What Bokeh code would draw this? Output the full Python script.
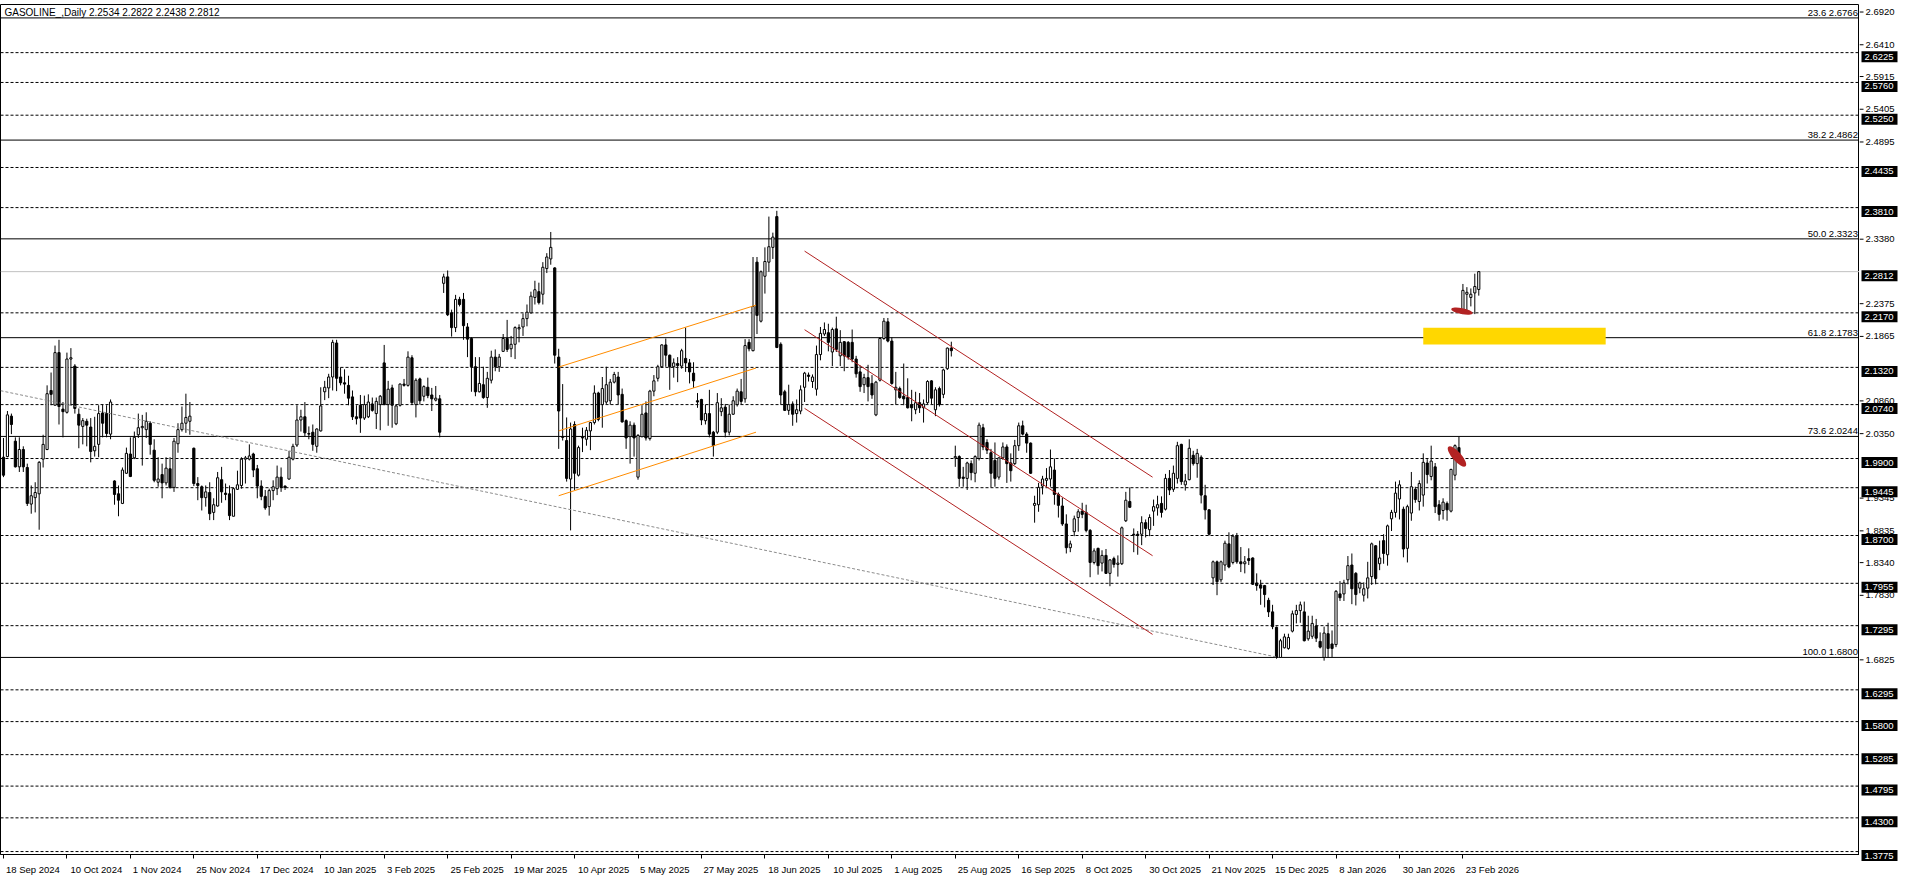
import numpy as np
from bokeh.plotting import figure
from bokeh.layouts import row
from bokeh.models import (Range1d, FixedTicker, Label, LinearAxis, CustomJSTickFormatter)
from bokeh.embed import file_html
from bokeh.resources import INLINE
from bokeh.core.properties import value

FONT = "Liberation Sans"

# ---------------- data (daily OHLC, bar index 0 = 18 Sep 2024) ----------------
opens = [
1.992,1.993,2.056,2.017,1.977,2.004,1.976,1.919,1.929,1.935,
1.989,2.004,2.096,2.073,2.155,2.067,2.062,2.145,2.134,2.059,
2.040,2.048,2.039,2.002,2.012,2.061,2.060,2.028,1.955,1.935,
1.920,1.967,1.997,1.991,2.027,2.038,2.035,2.045,2.003,1.953,
1.965,1.952,1.974,1.945,2.013,2.035,2.045,2.048,2.006,1.951,
1.946,1.929,1.937,1.906,1.916,1.957,1.936,1.935,1.900,1.942,
1.948,1.989,1.989,1.997,1.974,1.947,1.931,1.915,1.940,1.943,
1.961,1.947,1.958,1.989,2.011,2.050,2.055,2.029,2.031,2.009,
2.033,2.094,2.100,2.117,2.170,2.117,2.108,2.104,2.086,2.055,
2.073,2.053,2.055,2.075,2.060,2.074,2.139,2.074,2.100,2.044,
2.073,2.106,2.104,2.147,2.074,2.114,2.087,2.101,2.089,2.081,
2.083,2.263,2.273,2.217,2.194,2.238,2.238,2.195,2.177,2.133,
2.094,2.105,2.085,2.112,2.148,2.133,2.157,2.177,2.161,2.168,
2.192,2.195,2.208,2.217,2.241,2.250,2.246,2.286,2.301,2.287,
2.148,2.024,2.018,1.958,2.043,1.964,2.023,2.020,2.033,2.046,
2.092,2.074,2.078,2.080,2.109,2.117,2.090,2.049,2.024,2.042,
1.961,2.024,2.061,2.021,2.095,2.115,2.133,2.167,2.151,2.133,
2.138,2.134,2.146,2.139,2.123,2.080,2.082,2.049,2.060,2.031,
2.031,2.063,2.070,2.031,2.059,2.074,2.094,2.083,2.171,2.158,
2.296,2.204,2.274,2.296,2.319,2.367,2.168,2.094,2.065,2.075,
2.060,2.064,2.101,2.120,2.110,2.098,2.152,2.184,2.186,2.156,
2.192,2.150,2.172,2.171,2.171,2.145,2.125,2.105,2.116,2.107,
2.058,2.112,2.177,2.203,2.173,2.097,2.099,2.087,2.085,2.074,
2.066,2.077,2.069,2.077,2.111,2.066,2.099,2.090,2.130,2.162,
1.991,1.993,1.961,1.959,1.982,1.967,1.990,2.038,2.015,1.999,
1.987,1.961,1.991,2.008,1.983,1.982,2.010,2.041,2.028,2.014,
1.917,1.918,1.947,1.956,1.958,1.972,1.934,1.916,1.888,1.851,
1.876,1.898,1.908,1.906,1.878,1.828,1.850,1.827,1.839,1.811,
1.834,1.825,1.826,1.893,1.923,1.872,1.872,1.872,1.890,1.879,
1.908,1.913,1.920,1.911,1.959,1.942,1.959,2.012,1.949,1.957,
1.995,1.982,1.992,1.932,1.910,1.804,1.829,1.801,1.824,1.857,
1.828,1.870,1.829,1.826,1.834,1.835,1.796,1.793,1.792,1.769,
1.751,1.727,1.680,1.695,1.694,1.721,1.747,1.753,1.751,1.709,
1.713,1.729,1.705,1.680,1.717,1.701,1.700,1.779,1.779,1.801,
1.824,1.811,1.788,1.777,1.788,1.806,1.854,1.826,1.862,1.840,
1.896,1.906,1.927,1.911,1.850,1.905,1.942,1.923,1.933,1.983,
1.962,1.977,1.918,1.909,1.920,1.908,1.964,2.007,2.217,2.246,
2.241,2.248,2.2534]

highs = [
2.022,2.064,2.060,2.023,2.023,2.009,1.982,1.948,1.953,1.986,
2.027,2.104,2.124,2.166,2.175,2.078,2.155,2.162,2.137,2.068,
2.053,2.052,2.053,2.055,2.073,2.074,2.073,2.082,1.956,1.948,
1.976,2.007,2.023,2.032,2.060,2.058,2.062,2.048,2.020,1.992,
1.982,1.992,1.992,2.022,2.045,2.071,2.091,2.078,2.007,1.961,
1.948,1.948,1.953,1.928,1.969,1.977,1.951,1.948,1.945,1.971,
1.992,1.994,2.012,1.999,1.980,1.956,1.941,1.943,1.956,1.979,
1.976,1.948,2.002,2.013,2.073,2.066,2.078,2.040,2.043,2.037,
2.101,2.111,2.122,2.175,2.175,2.132,2.129,2.119,2.096,2.073,
2.089,2.088,2.090,2.085,2.085,2.089,2.167,2.111,2.105,2.074,
2.107,2.114,2.157,2.151,2.115,2.116,2.104,2.116,2.100,2.103,
2.089,2.278,2.283,2.222,2.245,2.242,2.248,2.201,2.179,2.148,
2.148,2.133,2.125,2.158,2.160,2.153,2.184,2.206,2.181,2.196,
2.199,2.216,2.230,2.250,2.267,2.264,2.296,2.310,2.343,2.288,
2.161,2.106,2.054,2.046,2.048,2.010,2.038,2.039,2.047,2.104,
2.094,2.117,2.133,2.114,2.125,2.125,2.099,2.051,2.048,2.046,
2.028,2.073,2.079,2.097,2.120,2.136,2.168,2.177,2.152,2.146,
2.148,2.161,2.194,2.145,2.140,2.092,2.083,2.074,2.097,2.033,
2.092,2.084,2.075,2.074,2.087,2.099,2.114,2.176,2.176,2.304,
2.304,2.283,2.319,2.367,2.342,2.376,2.171,2.097,2.105,2.079,
2.082,2.104,2.125,2.124,2.121,2.166,2.195,2.202,2.200,2.194,
2.211,2.190,2.173,2.173,2.191,2.150,2.135,2.122,2.136,2.120,
2.111,2.179,2.209,2.209,2.179,2.125,2.102,2.138,2.115,2.097,
2.094,2.092,2.082,2.112,2.112,2.101,2.102,2.130,2.163,2.172,
2.010,1.995,1.977,1.985,1.987,1.995,2.046,2.044,2.020,2.005,
2.015,1.992,2.015,2.012,1.998,2.019,2.046,2.049,2.031,2.015,
1.932,1.952,1.963,1.975,2.004,1.990,1.937,1.929,1.903,1.862,
1.901,1.911,1.921,1.918,1.880,1.850,1.851,1.847,1.849,1.833,
1.837,1.839,1.884,1.938,1.945,1.881,1.877,1.900,1.895,1.903,
1.926,1.932,1.931,1.966,1.972,1.979,2.016,2.013,1.966,2.020,
2.002,2.005,1.995,1.949,1.911,1.831,1.831,1.831,1.862,1.875,
1.872,1.874,1.852,1.838,1.850,1.836,1.811,1.801,1.793,1.773,
1.762,1.728,1.709,1.717,1.717,1.753,1.762,1.767,1.767,1.745,
1.745,1.740,1.719,1.728,1.734,1.722,1.785,1.799,1.801,1.838,
1.842,1.813,1.798,1.797,1.829,1.859,1.855,1.862,1.872,1.887,
1.910,1.954,1.956,1.915,1.918,1.969,1.946,1.956,1.998,1.989,
2.010,1.983,1.925,1.928,1.923,1.974,2.012,2.024,2.262,2.257,
2.255,2.278,2.2822]

lows = [
1.961,1.992,2.028,1.976,1.969,1.969,1.916,1.904,1.906,1.879,
1.976,2.003,2.073,2.073,2.043,2.023,2.060,2.073,2.060,2.006,
2.012,2.009,1.984,1.993,1.992,2.023,2.023,2.020,1.918,1.900,
1.919,1.966,1.961,1.989,2.022,1.979,2.022,1.996,1.953,1.946,
1.928,1.948,1.943,1.938,1.999,2.032,2.030,2.027,1.947,1.925,
1.909,1.915,1.894,1.894,1.915,1.921,1.925,1.894,1.900,1.941,
1.943,1.951,1.987,1.961,1.928,1.925,1.910,1.901,1.925,1.933,
1.938,1.941,1.957,1.987,2.008,2.032,2.025,2.020,2.002,1.999,
2.032,2.081,2.084,2.096,2.095,2.104,2.091,2.073,2.050,2.043,
2.030,2.050,2.053,2.063,2.036,2.034,2.073,2.041,2.038,2.042,
2.071,2.102,2.102,2.075,2.054,2.074,2.079,2.084,2.064,2.079,
2.023,2.248,2.212,2.180,2.187,2.227,2.175,2.148,2.094,2.087,
2.093,2.083,2.069,2.107,2.126,2.125,2.156,2.156,2.148,2.145,
2.171,2.181,2.196,2.216,2.230,2.230,2.230,2.279,2.292,2.138,
2.005,2.018,1.954,1.878,1.941,1.962,2.000,2.010,2.003,2.043,
2.048,2.038,2.075,2.074,2.107,2.074,2.046,2.005,1.982,1.993,
1.957,2.023,2.018,2.018,2.087,2.110,2.131,2.133,2.097,2.116,
2.109,2.130,2.125,2.107,2.100,2.069,2.042,2.043,2.023,1.993,
2.028,2.056,2.023,2.026,2.058,2.071,2.074,2.077,2.157,2.157,
2.184,2.202,2.247,2.281,2.301,2.162,2.074,2.064,2.058,2.041,
2.046,2.059,2.078,2.110,2.100,2.088,2.143,2.181,2.157,2.134,
2.156,2.134,2.126,2.144,2.140,2.116,2.094,2.092,2.079,2.083,
2.056,2.110,2.175,2.171,2.105,2.074,2.083,2.073,2.068,2.048,
2.059,2.061,2.046,2.075,2.075,2.056,2.071,2.084,2.128,2.149,
1.977,1.946,1.946,1.941,1.956,1.953,1.987,2.003,1.997,1.945,
1.946,1.957,1.988,1.952,1.954,1.980,2.002,2.026,1.999,1.966,
1.890,1.907,1.934,1.946,1.946,1.918,1.898,1.885,1.842,1.844,
1.869,1.876,1.897,1.875,1.805,1.825,1.809,1.814,1.810,1.791,
1.820,1.806,1.824,1.891,1.913,1.844,1.840,1.855,1.867,1.869,
1.885,1.901,1.898,1.909,1.933,1.938,1.951,1.949,1.940,1.956,
1.979,1.960,1.920,1.895,1.870,1.793,1.777,1.797,1.815,1.819,
1.825,1.826,1.813,1.811,1.824,1.793,1.784,1.762,1.758,1.743,
1.724,1.678,1.680,1.694,1.692,1.719,1.733,1.734,1.705,1.706,
1.709,1.704,1.694,1.675,1.680,1.680,1.696,1.768,1.768,1.794,
1.763,1.761,1.780,1.767,1.772,1.793,1.794,1.816,1.826,1.823,
1.877,1.898,1.895,1.836,1.828,1.893,1.921,1.909,1.915,1.951,
1.956,1.905,1.893,1.895,1.893,1.906,1.956,1.989,2.215,2.219,
2.227,2.215,2.2438]

closes = [
1.964,2.058,2.043,1.977,2.004,1.977,1.920,1.932,1.937,1.984,
2.012,2.091,2.090,2.155,2.071,2.063,2.145,2.147,2.068,2.042,
2.049,2.042,2.001,2.009,2.060,2.045,2.029,2.078,1.934,1.925,
1.972,1.998,1.962,2.023,2.038,2.040,2.048,2.012,1.956,1.958,
1.952,1.975,1.945,2.017,2.035,2.045,2.054,2.056,1.951,1.948,
1.929,1.938,1.904,1.918,1.960,1.938,1.934,1.901,1.943,1.949,
1.989,1.991,1.994,1.972,1.947,1.931,1.913,1.940,1.946,1.961,
1.945,1.945,1.992,2.009,2.050,2.055,2.030,2.028,2.012,2.036,
2.072,2.101,2.117,2.171,2.115,2.108,2.106,2.084,2.055,2.052,
2.053,2.074,2.078,2.065,2.079,2.087,2.074,2.098,2.073,2.072,
2.106,2.104,2.148,2.077,2.112,2.080,2.102,2.088,2.083,2.084,
2.031,2.273,2.214,2.194,2.238,2.230,2.197,2.176,2.133,2.094,
2.107,2.085,2.115,2.148,2.133,2.148,2.177,2.160,2.168,2.194,
2.194,2.208,2.218,2.243,2.253,2.233,2.288,2.304,2.319,2.151,
2.064,2.023,1.959,2.036,1.967,2.007,2.022,2.034,2.046,2.092,
2.051,2.099,2.105,2.109,2.121,2.089,2.047,2.022,2.042,2.022,
2.026,2.059,2.022,2.095,2.111,2.133,2.167,2.151,2.133,2.139,
2.135,2.158,2.139,2.125,2.111,2.078,2.050,2.060,2.028,2.010,
2.077,2.069,2.031,2.059,2.080,2.095,2.079,2.166,2.161,2.227,
2.213,2.281,2.297,2.320,2.335,2.163,2.089,2.065,2.074,2.059,
2.066,2.097,2.123,2.118,2.117,2.152,2.185,2.191,2.171,2.191,
2.160,2.171,2.150,2.148,2.145,2.122,2.102,2.116,2.102,2.089,
2.109,2.177,2.204,2.173,2.107,2.101,2.085,2.083,2.069,2.069,
2.077,2.069,2.075,2.110,2.084,2.097,2.074,2.128,2.162,2.158,
1.993,1.959,1.959,1.983,1.968,1.993,2.042,2.008,2.003,1.967,
1.959,1.991,2.008,1.982,1.971,2.010,2.041,2.028,2.014,1.967,
1.920,1.945,1.958,1.959,1.977,1.934,1.917,1.888,1.851,1.857,
1.896,1.907,1.903,1.878,1.828,1.846,1.823,1.839,1.811,1.832,
1.825,1.827,1.882,1.925,1.914,1.871,1.870,1.890,1.881,1.898,
1.915,1.918,1.906,1.959,1.941,1.967,2.010,1.954,1.955,2.006,
1.982,1.998,1.933,1.910,1.872,1.829,1.798,1.829,1.858,1.821,
1.869,1.829,1.826,1.829,1.831,1.794,1.792,1.788,1.778,1.751,
1.728,1.680,1.706,1.712,1.711,1.748,1.753,1.762,1.706,1.721,
1.733,1.710,1.696,1.718,1.694,1.694,1.783,1.773,1.796,1.823,
1.787,1.778,1.796,1.787,1.804,1.857,1.803,1.835,1.842,1.885,
1.906,1.936,1.949,1.849,1.915,1.946,1.926,1.951,1.984,1.965,
1.986,1.915,1.903,1.922,1.910,1.973,2.010,1.991,2.252,2.249,
2.246,2.258,2.2812]

date_labels = ["18 Sep 2024", "10 Oct 2024", "1 Nov 2024", "25 Nov 2024", "17 Dec 2024",
               "10 Jan 2025", "3 Feb 2025", "25 Feb 2025", "19 Mar 2025", "10 Apr 2025",
               "5 May 2025", "27 May 2025", "18 Jun 2025", "10 Jul 2025", "1 Aug 2025",
               "25 Aug 2025", "16 Sep 2025", "8 Oct 2025", "30 Oct 2025", "21 Nov 2025",
               "15 Dec 2025", "8 Jan 2026", "30 Jan 2026", "23 Feb 2026"]
date_bars = [0, 16, 32, 48, 64, 80, 96, 112, 128, 144, 160, 176, 192, 208, 224,
             240, 256, 272, 288, 304, 320, 336, 352, 368]

price_ticks = [2.6920, 2.6410, 2.5915, 2.5405, 2.4895, 2.3380, 2.2375, 2.1865, 2.0860,
               2.0350, 1.9345, 1.8835, 1.8340, 1.7830, 1.6825]

hline_levels = [2.6225, 2.5760, 2.5250, 2.4435, 2.3810, 2.2170, 2.1320, 2.0740, 1.9900,
                1.9445, 1.8700, 1.7955, 1.7295, 1.6295, 1.5800, 1.5285, 1.4795, 1.4300, 1.3775]

current_price = 2.2812

fib_pcts = ["23.6", "38.2", "50.0", "61.8", "73.6", "100.0"]
fib_levels = [2.6766, 2.4862, 2.3323, 2.1783, 2.0244, 1.6800]

# drawn objects (bar index, price)
grey_trend_x = [-0.75, 321.5]
grey_trend_y = [2.0957, 1.6800]
orange_x0 = [140.0, 140.0, 140.0]
orange_x1 = [189.75, 189.75, 189.75]
orange_y0 = [2.1325, 2.0330, 1.9320]
orange_y1 = [2.2290, 2.1310, 2.0310]
red_x0 = [202.0, 202.0, 202.0]
red_x1 = [289.75, 289.75, 289.75]
red_y0 = [2.3132, 2.1907, 2.0681]
red_y1 = [1.9609, 1.8385, 1.7159]
zone_left, zone_right = 358.0, 404.0
zone_top, zone_bottom = 2.1937, 2.1677
marker_x = [367.75, 366.5]
marker_y = [2.2197, 1.9931]

title_text = "GASOLINE_,Daily  2.2534 2.2822 2.2438 2.2812"

# ---------------- layout constants ----------------
X0, X1 = -0.75, 468.0
Y0, Y1 = 1.3729, 2.6975
MAIN_W, SCALE_W, FRAME_H = 1859, 41, 850
TOP = 4
FS = "9.5px"
px_per_bar = MAIN_W / (X1 - X0)
px_per_price = FRAME_H / (Y1 - Y0)

p = figure(frame_width=MAIN_W, frame_height=FRAME_H, output_backend="svg", toolbar_location=None,
           x_range=Range1d(X0, X1), y_range=Range1d(Y0, Y1), x_axis_location=None, y_axis_location=None,
           min_border_left=0, min_border_top=TOP, min_border_right=0, min_border_bottom=0)
p.xgrid.visible = False
p.ygrid.visible = False
p.background_fill_color = "white"
p.border_fill_color = "white"
p.outline_line_color = "black"
p.outline_line_width = 1


# date axis: small tick at the first bar of each label, text written to its right (MT4 style)
def _text_w(s):
    w = 0.0
    for ch in s:
        if ch.isdigit():
            w += 0.556
        elif ch == " ":
            w += 0.278
        elif ch.isupper():
            w += 0.667
        else:
            w += 0.5
    return w * 9.5


label_centres = [b + (_text_w(t) / 2 + 3) / px_per_bar for b, t in zip(date_bars, date_labels)]
xax = LinearAxis(ticker=FixedTicker(ticks=label_centres, minor_ticks=date_bars),
                 formatter=CustomJSTickFormatter(args=dict(labels=date_labels), code="return labels[index];"),
                 major_tick_in=0, major_tick_out=0, minor_tick_in=0, minor_tick_out=4,
                 minor_tick_line_color="black", axis_line_color="black", major_label_standoff=5,
                 major_label_text_font=FONT, major_label_text_font_size=FS,
                 major_label_text_color="black")
p.add_layout(xax, "below")

# horizontal levels (drawn first, under candles)
p.segment(x0=[X0] * len(hline_levels), x1=[X1] * len(hline_levels), y0=hline_levels, y1=hline_levels,
          line_color="black", line_width=1, line_dash="3 2")
p.segment(x0=[X0] * len(fib_levels), x1=[X1] * len(fib_levels), y0=fib_levels, y1=fib_levels,
          line_color="black", line_width=1)
p.segment(x0=[X0], x1=[X1], y0=[current_price], y1=[current_price], line_color="#c0c0c0", line_width=1)

# candles
idx = np.arange(len(opens))
o = np.array(opens); h = np.array(highs); l = np.array(lows); c = np.array(closes)
inc = c >= o
p.segment(x0=idx, x1=idx, y0=l, y1=h, line_color="black", line_width=1)
p.vbar(x=idx[inc], top=c[inc], bottom=o[inc], width=0.55, fill_color="white", line_color="black", line_width=1)
p.vbar(x=idx[~inc], top=o[~inc], bottom=c[~inc], width=0.55, fill_color="black", line_color="black", line_width=1)

# trend lines / channels
p.line(grey_trend_x, grey_trend_y, line_color="#8c8c8c", line_width=1, line_dash="3 2")
p.segment(x0=orange_x0, x1=orange_x1, y0=orange_y0, y1=orange_y1, line_color="#ff8c00", line_width=1)
p.segment(x0=red_x0, x1=red_x1, y0=red_y0, y1=red_y1, line_color="#b22222", line_width=1)

# yellow zone
p.quad(left=[zone_left], right=[zone_right], top=[zone_top], bottom=[zone_bottom],
       fill_color="#ffd700", line_color=None)

# red markers
p.ellipse(x=marker_x, y=marker_y, width=[22, 26], height=[6, 9], angle=[-0.2, -0.85],
          width_units="screen", height_units="screen", fill_color="#b22222", line_color=None)

# fibo labels
p.text(x=[X1 - 0.4] * len(fib_levels), y=fib_levels,
       text=[f"{a} {b:.4f}" for a, b in zip(fib_pcts, fib_levels)],
       text_align="right", text_baseline="bottom", text_font=value(FONT),
       text_font_size=FS, text_color="black")

# title
p.add_layout(Label(x=X0 + 1.0, y=Y1 - 0.004, text=title_text, text_align="left", text_baseline="top",
                   text_font=FONT, text_font_size="10px", text_color="black"))

# ---------------- price scale (right column, same price-to-pixel scale) ----------------
ext = TOP / px_per_price
s = figure(frame_width=SCALE_W, frame_height=FRAME_H + 2 * TOP, output_backend="svg", toolbar_location=None,
           x_range=Range1d(0, SCALE_W), y_range=Range1d(Y0 - ext, Y1 + ext),
           x_axis_location=None, y_axis_location=None,
           min_border_left=0, min_border_top=0, min_border_right=0, min_border_bottom=14)
s.xgrid.visible = False
s.ygrid.visible = False
s.outline_line_color = None
s.background_fill_color = "white"
s.border_fill_color = "white"

# ticks + tick labels
s.segment(x0=[0] * len(price_ticks), x1=[4] * len(price_ticks), y0=price_ticks, y1=price_ticks,
          line_color="black", line_width=1)
s.text(x=[6] * len(price_ticks), y=price_ticks, text=[f"{v:.4f}" for v in price_ticks],
       text_align="left", text_baseline="middle", text_font=value(FONT), text_font_size=FS,
       text_color="black")

# black price boxes for the horizontal levels and the last price
box_levels = hline_levels + [current_price]
s.rect(x=[20] * len(box_levels), y=box_levels, width=36, height=11, height_units="screen",
       fill_color="black", line_color=None)
s.text(x=[5] * len(box_levels), y=box_levels, text=[f"{v:.4f}" for v in box_levels],
       text_align="left", text_baseline="middle", text_font=value(FONT), text_font_size=FS,
       text_color="white")

layout = row(p, s)
open("out.html", "w").write(file_html(layout, INLINE))
